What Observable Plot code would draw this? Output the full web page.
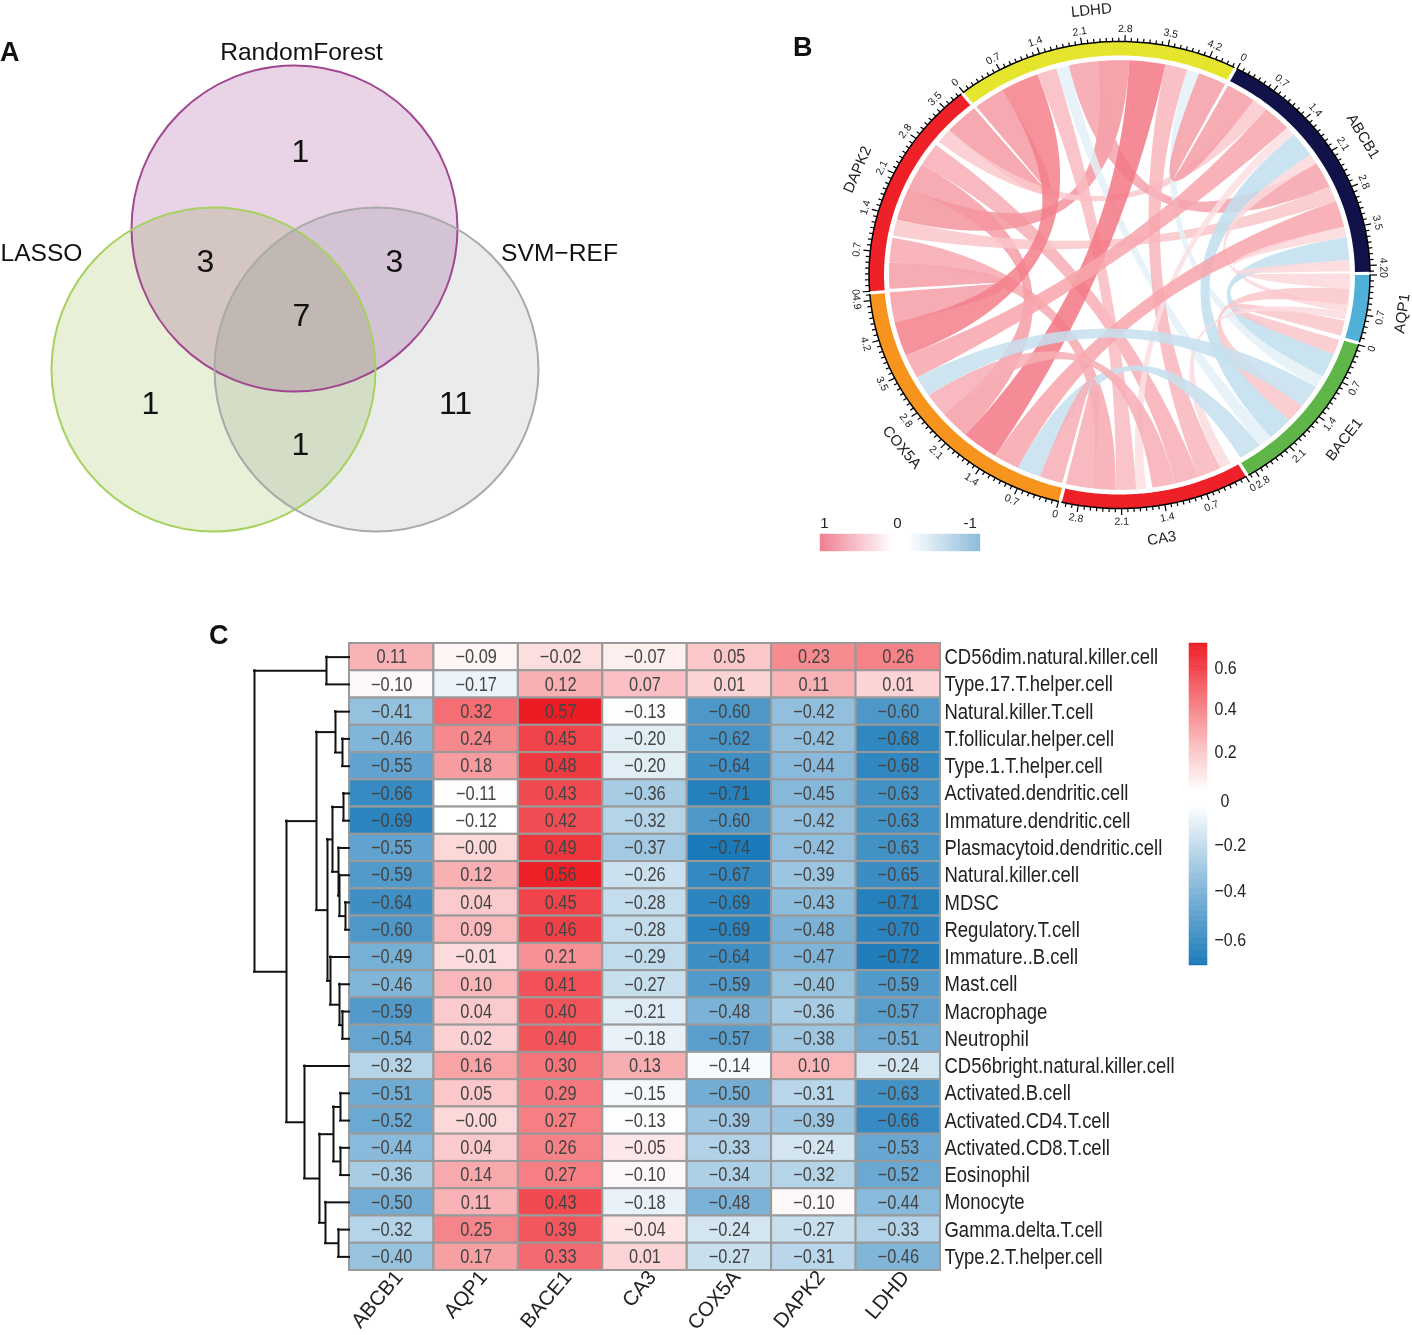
<!DOCTYPE html>
<html>
<head>
<meta charset="utf-8">
<script src="https://cdn.jsdelivr.net/npm/d3@7"></script>
<script src="https://cdn.jsdelivr.net/npm/@observablehq/plot@0.6"></script>
<style>
html,body{margin:0;padding:0;background:#fff}
#fig{position:relative;width:1412px;height:1335px;overflow:hidden;font-family:"Liberation Sans",Arial,sans-serif}
#fig svg{position:absolute;overflow:visible;background:transparent}
.tag{position:absolute;font:bold 27px "Liberation Sans",Arial,sans-serif;color:#111;line-height:1}
</style>
</head>
<body>
<div id="fig">
<div class="tag" style="left:0;top:39px">A</div>
<div class="tag" style="left:793px;top:34px">B</div>
<div class="tag" style="left:209px;top:622px">C</div>
</div>
<script>
const SANS = '"Liberation Sans",Arial,sans-serif';

/* ---------- A: Venn ---------- */
const vennSets = ["RandomForest","LASSO","SVM\u2212REF"];
const vennX = [294,213,376];
const vennY = [228,369,369];
const vennR = [163,162,162];
const vennFill = ["#e8d3e7","#e8f0d8","#e9ecea"];
const vennStroke = ["#a2478f","#a6d15e","#a9a9a9"];
const vennSetLabelX = [301,41,559];
const vennSetLabelY = [52,253,253];
const vennCounts = ["1","3","3","7","1","11","1"];
const vennCountX = [300,205,394,301,150,455,300];
const vennCountY = [151,261,261,315,403,403,444];

/* ---------- B: chord ---------- */
const sectorNames = ["LDHD","ABCB1","AQP1","BACE1","CA3","COX5A","DAPK2"];
const sectorStart = [-38.5,28,90,107.4,149.7,194.1,266];
const sectorEnd   = [27.2,89.2,106.6,148.9,193.3,265.2,320.7];
const sectorColor = ["#e5e52d","#12124a","#4fb0d8","#5fb548","#ee2028","#f7941e","#ee2028"];
const degPerUnit = 14.2;
// ribbons: both ends along the ring in degrees clockwise from north, then the correlation
const ribbons = [
 [266.3,273.4,257.3,265.4,.5],[273.4,280,181,186.8,.45],[301,307.2,160,166,.42],
 [293.8,301,222,229.6,.5],[285,293.8,354.6,362.4,.55],[312.3,320.9,321.6,329.4,.52],
 [308.3,312.3,35.6,39.5,.28],[65.7,69.9,280.6,285,.3],[329.4,339.1,248,257.3,.66],
 [339.1,344.1,175.8,181,.35],[344.1,347.3,139,142.5,-.2],[347.3,354.6,58.7,65.7,.48],
 [2.4,11.5,212.7,222,.7],[11.5,17.1,154,160,.38],[17.1,20.2,118.1,121.5,-.2],
 [20.2,27.3,28.1,35.6,.5],[39.5,46.7,241.5,248,.47],[46.7,49.2,173.3,175.8,.17],
 [49.2,56,132.5,139,-.45],[56,58.7,98,100,.2],[69.9,77,206.1,212.7,.47],
 [77,79.8,91.4,93.7,.2],[79.8,86,111.6,118.1,-.45],[86,89,89.6,91.4,.2],
 [102.3,106.4,107.6,111.6,.3],[93.7,98,127.6,132.5,.3],[100,102,151.2,154,.18],
 [235.9,241.5,121.5,127.6,-.42],[200.2,206.1,142.5,148.3,-.42],[229.6,235.9,166,171.8,.42],
 [194.4,200.2,186.8,193.5,.42]
];
const chordLegendTicks = [["1",.95],["0",.04],["-1",-.87]];

/* ---------- C: heatmap ---------- */
const cellRows = ["CD56dim.natural.killer.cell","Type.17.T.helper.cell","Natural.killer.T.cell","T.follicular.helper.cell","Type.1.T.helper.cell","Activated.dendritic.cell","Immature.dendritic.cell","Plasmacytoid.dendritic.cell","Natural.killer.cell","MDSC","Regulatory.T.cell","Immature..B.cell","Mast.cell","Macrophage","Neutrophil","CD56bright.natural.killer.cell","Activated.B.cell","Activated.CD4.T.cell","Activated.CD8.T.cell","Eosinophil","Monocyte","Gamma.delta.T.cell","Type.2.T.helper.cell"];
const ABCB1 = [.11,-.10,-.41,-.46,-.55,-.66,-.69,-.55,-.59,-.64,-.60,-.49,-.46,-.59,-.54,-.32,-.51,-.52,-.44,-.36,-.50,-.32,-.40];
const AQP1  = [-.09,-.17,.32,.24,.18,-.11,-.12,-.001,.12,.04,.09,-.01,.10,.04,.02,.16,.05,-.001,.04,.14,.11,.25,.17];
const BACE1 = [-.02,.12,.57,.45,.48,.43,.42,.49,.56,.45,.46,.21,.41,.40,.40,.30,.29,.27,.26,.27,.43,.39,.33];
const CA3   = [-.07,.07,-.13,-.20,-.20,-.36,-.32,-.37,-.26,-.28,-.28,-.29,-.27,-.21,-.18,.13,-.15,-.13,-.05,-.10,-.18,-.04,.01];
const COX5A = [.05,.01,-.60,-.62,-.64,-.71,-.60,-.74,-.67,-.69,-.69,-.64,-.59,-.48,-.57,-.14,-.50,-.39,-.33,-.34,-.48,-.24,-.27];
const DAPK2 = [.23,.11,-.42,-.42,-.44,-.45,-.42,-.42,-.39,-.43,-.48,-.47,-.40,-.36,-.38,.10,-.31,-.39,-.24,-.32,-.10,-.27,-.31];
const LDHD  = [.26,.01,-.60,-.68,-.68,-.63,-.63,-.63,-.65,-.71,-.70,-.72,-.59,-.57,-.51,-.24,-.63,-.66,-.53,-.52,-.44,-.33,-.46];
const cellCols = ["ABCB1","AQP1","BACE1","CA3","COX5A","DAPK2","LDHD"];
const cellValues = [ABCB1,AQP1,BACE1,CA3,COX5A,DAPK2,LDHD];
// dendrogram: [branch height, child, child]; a number child is a row index
const dendrogram = [95,
  [23,0,1],
  [63,
    [33,
      [14,2,[7,3,4]],
      [22,
        [17,[6,5,6],[11,7,[10,8,[4,9,10]]]],
        [19,11,[10,12,[7,13,14]]]
      ]
    ],
    [45,15,
      [30,
        [16,[9,16,17],[9,18,19]],
        [24,20,[11,21,22]]
      ]
    ]
  ]
];
const colorbarTicks = [.6,.4,.2,0,-.2,-.4,-.6];
const colorbarDepth = [24,65,108,157,201,247,296];

const fig = document.getElementById("fig");
function place(svg,left,top){svg.style.left=left+"px";svg.style.top=top+"px";fig.appendChild(svg);return svg;}
function condense(svg,factor,skip){
  svg.querySelectorAll("text").forEach(t=>{
    if(skip && t.closest(skip)) return;
    t.setAttribute("textLength",t.getComputedTextLength()*factor);
    t.setAttribute("lengthAdjust","spacingAndGlyphs");
  });
}

/* ===== Venn plot ===== */
const vennRows = vennSets.map((s,i)=>({s,x:vennX[i],y:vennY[i],r:vennR[i],fill:vennFill[i],stroke:vennStroke[i],lx:vennSetLabelX[i],ly:vennSetLabelY[i]}));
const countRows = vennCounts.map((c,i)=>({c,x:vennCountX[i],y:vennCountY[i]}));
place(Plot.plot({
  width:800,height:560,margin:0,
  x:{domain:[0,800],range:[0,800],axis:null},
  y:{domain:[0,560],range:[0,560],axis:null},
  r:{type:"identity"},
  color:{type:"identity"},
  style:{fontFamily:SANS,background:"transparent"},
  marks:[
    Plot.dot(vennRows,{x:"x",y:"y",r:"r",fill:"fill",stroke:"none",mixBlendMode:"multiply"}),
    Plot.dot(vennRows,{x:"x",y:"y",r:"r",fill:"none",stroke:"stroke",strokeWidth:2}),
    Plot.text(vennRows,{x:"lx",y:"ly",text:"s",fontSize:24.6,fill:"#111"}),
    Plot.text(countRows,{x:"x",y:"y",text:"c",fontSize:32,fill:"#111"})
  ]
}),0,0);

/* ===== Chord plot ===== */
const rad = d=>d*Math.PI/180;
const polar = (deg,r)=>({x:r*Math.sin(rad(deg)),y:r*Math.cos(rad(deg))});
const RIB=.92, IN=.94, OUT=1;
const steps = (a,b,n)=>d3.range(n+1).map(i=>a+(b-a)*i/n);
const ribbonPts = ribbons.flatMap(([a0,a1,b0,b1,value],id)=>{
  const pa1=polar(a1,RIB), pb0=polar(b0,RIB), pb1=polar(b1,RIB), pa0=polar(a0,RIB);
  const bez=(p,q)=>steps(0,1,40).map(t=>({x:(1-t)*(1-t)*p.x+t*t*q.x,y:(1-t)*(1-t)*p.y+t*t*q.y}));
  return [...steps(a0,a1,10).map(d=>polar(d,RIB)),...bez(pa1,pb0),...steps(b0,b1,10).map(d=>polar(d,RIB)),...bez(pb1,pa0)]
    .map(p=>({...p,id,value}));
});
const sectors = sectorNames.map((name,i)=>({name,s:sectorStart[i],e:sectorEnd[i],color:sectorColor[i]}));
const arcPolys = sectors.map(s=>{
  const a=steps(s.s,s.e,80);
  return [...a.map(d=>polar(d,OUT)),...a.slice().reverse().map(d=>polar(d,IN))];
});
const ticks = sectors.flatMap(s=>{
  const n=Math.floor((s.e-s.s)/degPerUnit*10+1e-6), out=[];
  for(let k=0;k<=n;k++){
    const deg=s.s+k*.1*degPerUnit, major=k%7===0;
    const p=polar(deg,OUT), q=polar(deg,OUT+(major?.028:.016));
    out.push({x1:p.x,y1:p.y,x2:q.x,y2:q.y,deg,major,label:k===0?"0":(k/10).toFixed(1)});
  }
  return out;
});
const facing = deg=>{const d=((deg%360)+360)%360;return d>90&&d<270?d-180:d>=270?d-360:d;};
const majors = ticks.filter(t=>t.major).map(t=>({...polar(t.deg,1.055),label:t.label,rot:facing(t.deg)}));
const sectorLabels = sectors.map(s=>{const m=(s.s+s.e)/2;return {...polar(m,1.14),label:s.name,rot:facing(m)};});
const CX=1119,CY=274.5,RX=250.5,RY=233.5;
place(Plot.plot({
  width:612,height:560,margin:0,
  x:{domain:[(800-CX)/RX,(1412-CX)/RX],range:[0,612],axis:null},
  y:{domain:[(CY-560)/RY,CY/RY],range:[560,0],axis:null},
  color:{type:"linear",domain:[-1,0,1],range:["#74b8d7","#ffffff","#ed3d4f"]},
  style:{fontFamily:SANS,background:"transparent"},
  marks:[
    Plot.line(ribbonPts,{x:"x",y:"y",z:"id",fill:"value",fillOpacity:.85,stroke:"none"}),
    ...arcPolys.map((pts,i)=>Plot.line(pts,{x:"x",y:"y",fill:sectors[i].color,stroke:"none"})),
    ...sectors.map(s=>Plot.line(steps(s.s,s.e,80).map(d=>polar(d,OUT)),{x:"x",y:"y",stroke:"#000",strokeWidth:1.5})),
    Plot.link(ticks,{x1:"x1",y1:"y1",x2:"x2",y2:"y2",stroke:"#000",strokeWidth:1.2}),
    Plot.text(majors,{x:"x",y:"y",text:"label",rotate:"rot",fontSize:10.5,fill:"#222"}),
    Plot.text(sectorLabels,{x:"x",y:"y",text:"label",rotate:"rot",fontSize:15,fill:"#222"})
  ]
}),800,0);

/* ===== Chord legend ===== */
const legendSteps = d3.range(-1,1,.05).map(v=>v+.025);
place(Plot.plot({
  width:160,height:41,marginTop:24,marginBottom:0,marginLeft:0,marginRight:0,
  x:{domain:[1,-1],axis:null},
  y:{axis:null},
  color:{type:"linear",domain:[-1,-.1,.1,1],range:["#8dbbd9","#ffffff","#ffffff","#f07f90"]},
  style:{fontFamily:SANS,background:"transparent"},
  marks:[
    Plot.rect(legendSteps,{x1:v=>v+.025,x2:v=>v-.025,fill:v=>v,stroke:v=>v,strokeWidth:.4}),
    Plot.text(chordLegendTicks,{x:d=>d[1],text:d=>d[0],frameAnchor:"top",dy:-17,fontSize:15,fill:"#222"})
  ]
}),820,510);

/* ===== Heatmap ===== */
const fmt = v=>v.toFixed(2).replace("-","\u2212");
const cells = cellCols.flatMap((c,i)=>cellRows.map((r,j)=>({c,r,v:cellValues[i][j],t:fmt(cellValues[i][j])})));
const heat = place(Plot.plot({
  width:1412,height:695,marginLeft:349,marginRight:472,marginTop:3,marginBottom:65,
  x:{domain:cellCols,padding:0,round:false,label:null},
  y:{domain:cellRows,padding:0,round:false,label:null},
  color:{type:"linear",domain:[-.74,-.12,.57],range:["#1b7ab9","#ffffff","#ed1c24"]},
  style:{fontFamily:SANS,background:"transparent"},
  marks:[
    Plot.cell(cells,{x:"c",y:"r",fill:"v",stroke:"#9a9a9a",strokeWidth:2}),
    Plot.text(cells,{x:"c",y:"r",text:"t",fill:"#444",fontSize:19.5}),
    Plot.axisY({anchor:"right",tickSize:0,tickPadding:4,fontSize:22,label:null,fill:"#222"}),
    Plot.axisX({anchor:"bottom",tickSize:0,tickPadding:3,tickRotate:-50,fontSize:20.5,dx:7,label:null,fill:"#222"})
  ]
}),0,640);
condense(heat,.84,'[aria-label^="x-axis"]');

/* ===== Dendrogram ===== */
const hSegs=[], vSegs=[];
function walk(n){
  if(typeof n==="number") return {d:0,y:n+.5};
  const [d,a,b]=n, A=walk(a), B=walk(b);
  hSegs.push({x1:d,x2:A.d,y:A.y},{x1:d,x2:B.d,y:B.y});
  vSegs.push({x:d,y1:A.y,y2:B.y});
  return {d,y:(A.y+B.y)/2};
}
walk(dendrogram);
place(Plot.plot({
  width:109,height:627,margin:0,
  x:{domain:[109,0],range:[0,109],axis:null},
  y:{domain:[0,23],range:[0,627],axis:null},
  style:{background:"transparent"},
  marks:[
    Plot.ruleY(hSegs,{x1:"x1",x2:"x2",y:"y",stroke:"#111",strokeWidth:2,strokeLinecap:"square"}),
    Plot.ruleX(vSegs,{x:"x",y1:"y1",y2:"y2",stroke:"#111",strokeWidth:2,strokeLinecap:"square"})
  ]
}),240,643);

/* ===== Colorbar ===== */
const barSteps = d3.range(-.71,.71,.01);
const depth = d3.scaleLinear().domain([.71,...colorbarTicks,-.71]).range([0,...colorbarDepth,322]);
const barTickLabel = v=>v===0?"0":v.toFixed(1).replace("-","\u2212");
const bar = place(Plot.plot({
  width:80,height:330,marginTop:3,marginBottom:5,marginLeft:0,marginRight:62,
  x:{axis:null},
  y:{domain:[0,322],range:[3,325],axis:null},
  color:{type:"linear",domain:[-.71,-.03,.03,.71],range:["#1b7ab9","#ffffff","#ffffff","#ed1c24"]},
  style:{fontFamily:SANS,background:"transparent"},
  marks:[
    Plot.rect(barSteps,{y1:v=>depth(v),y2:v=>depth(v+.01),fill:v=>v,stroke:v=>v,strokeWidth:.5}),
    Plot.text(colorbarTicks.filter(v=>v!==0),{y:v=>depth(v),text:barTickLabel,frameAnchor:"left",textAnchor:"start",dx:25,fontSize:19,fill:"#222"}),
    Plot.text(colorbarTicks.filter(v=>v===0),{y:v=>depth(v),text:barTickLabel,frameAnchor:"left",textAnchor:"start",dx:31,fontSize:19,fill:"#222"})
  ]
}),1189,640);
condense(bar,.84);
</script>
</body>
</html>
